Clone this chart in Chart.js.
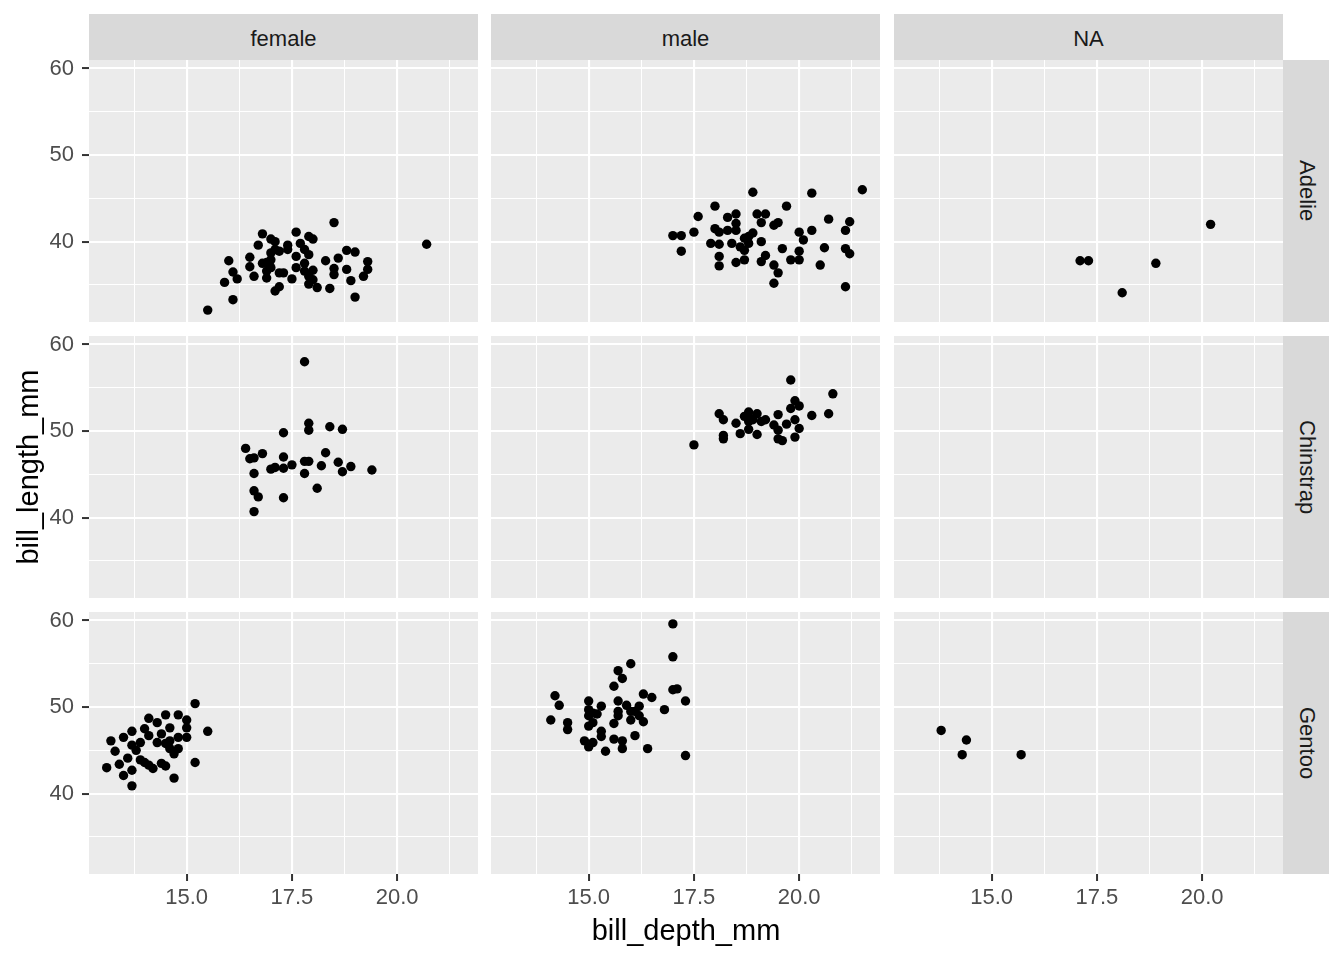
<!DOCTYPE html>
<html>
<head>
<meta charset="utf-8">
<script src="https://cdn.jsdelivr.net/npm/chart.js@4.4.1/dist/chart.umd.min.js"></script>
<style>
  body { margin: 0; background: #fff; }
  #wrap { position: relative; width: 1344px; height: 960px; overflow: hidden; font-family: "Liberation Sans", Arial, sans-serif; }
  #wrap canvas { position: absolute; }
  .strip { position: absolute; box-sizing: border-box; background: #D9D9D9; color: #1A1A1A; font-size: 22px; display: flex; align-items: center; justify-content: center; }
  .strip.top { padding-top: 4px; }
  .strip.right { writing-mode: vertical-rl; padding-left: 2px; }
  .title { position: absolute; color: #000; font-size: 29px; height: 38px; line-height: 38px; text-align: center; white-space: nowrap; }
</style>
</head>
<body>
<div id="wrap"></div>
<script>
// facets
const sexes = ['female', 'male', 'NA'];
const species = ['Adelie', 'Chinstrap', 'Gentoo'];

// axis breaks and limits
const xTicks = [15, 17.5, 20];
const yTicks = [40, 50, 60];
const xRange = [12.68, 21.92];
const yRange = [30.725, 60.975];

// [bill_depth_mm, bill_length_mm]
const adelieFemale = [
  [15.5, 32.1], [16.1, 33.3], [15.9, 35.3], [16.0, 37.8], [16.1, 36.5], [16.2, 35.7], [16.5, 38.2], [16.5, 37.1],
  [16.6, 36.0], [16.7, 39.6], [16.8, 40.9], [16.8, 37.5], [16.9, 35.8], [17.0, 40.3], [17.0, 38.7], [17.0, 37.0],
  [17.1, 34.3], [17.2, 34.8], [17.1, 40.0], [17.2, 38.9], [17.0, 37.9], [16.9, 36.6], [17.2, 36.4], [17.3, 36.4],
  [17.4, 39.6], [17.5, 35.7], [17.6, 41.1], [17.6, 38.3], [17.7, 39.8], [17.8, 39.1], [17.9, 40.6], [18.0, 40.3],
  [17.9, 38.5], [17.8, 37.5], [17.8, 36.6], [18.0, 36.7], [17.9, 36.0], [18.0, 35.6], [17.9, 35.1], [18.1, 34.7],
  [18.3, 37.8], [18.4, 34.6], [18.5, 42.2], [18.5, 36.9], [18.6, 38.1], [18.5, 36.2], [18.8, 39.0], [19.0, 38.8],
  [18.8, 36.8], [18.9, 35.5], [19.0, 33.6], [19.3, 37.7], [19.3, 36.8], [19.2, 36.0], [20.7, 39.7], [17.6, 37.0],
  [17.4, 39.1], [16.9, 37.6], [17.1, 39.1]
];
const adelieMale = [
  [18.9, 45.7], [20.3, 45.6], [21.5, 46.0], [18.0, 44.1], [19.7, 44.1], [17.6, 42.9], [18.3, 42.8], [18.5, 43.2],
  [19.0, 43.2], [19.2, 43.2], [19.1, 42.2], [19.4, 41.9], [19.5, 42.2], [20.7, 42.6], [21.2, 42.3], [21.1, 41.3],
  [20.3, 41.3], [20.0, 41.1], [20.1, 40.2], [17.0, 40.7], [17.2, 40.7], [17.5, 41.1], [17.2, 38.9], [17.9, 39.8],
  [18.1, 39.7], [18.0, 41.5], [18.1, 41.1], [18.3, 41.3], [18.5, 41.3], [18.4, 39.8], [18.6, 39.4], [18.7, 40.4],
  [18.8, 40.6], [18.9, 41.0], [19.1, 40.0], [18.7, 39.0], [18.1, 38.3], [18.1, 37.2], [18.5, 37.6], [18.7, 37.9],
  [19.1, 37.7], [19.2, 38.4], [19.4, 37.3], [19.5, 36.4], [19.4, 35.2], [19.6, 39.2], [19.8, 37.9], [20.0, 38.9],
  [20.0, 37.9], [20.5, 37.3], [20.6, 39.3], [21.1, 39.2], [21.2, 38.6], [21.1, 34.8], [18.5, 42.1], [18.8, 39.8]
];
const adelieNA = [[17.1, 37.8], [17.3, 37.8], [18.1, 34.1], [18.9, 37.5], [20.2, 42.0]];

const chinstrapFemale = [
  [17.8, 58.0], [17.9, 50.9], [17.9, 50.1], [18.4, 50.5], [18.7, 50.2], [17.3, 49.8], [16.4, 48.0], [16.5, 46.8],
  [16.6, 46.9], [16.8, 47.4], [16.6, 45.1], [17.0, 45.6], [17.1, 45.8], [17.3, 47.0], [17.3, 45.7], [17.5, 46.1],
  [17.8, 46.5], [17.9, 46.5], [17.8, 45.1], [18.2, 46.0], [18.3, 47.5], [18.6, 46.4], [18.7, 45.3], [18.9, 45.9],
  [19.4, 45.5], [18.1, 43.4], [16.6, 43.1], [16.7, 42.4], [17.3, 42.3], [16.6, 40.7]
];
const chinstrapMale = [
  [17.5, 48.4], [19.8, 55.9], [20.8, 54.3], [19.9, 53.5], [20.0, 52.9], [19.8, 52.6], [18.1, 52.0], [18.2, 51.3],
  [18.5, 50.9], [18.6, 49.7], [18.2, 49.5], [18.2, 49.1], [18.7, 51.7], [18.8, 52.2], [19.0, 52.0], [18.9, 51.3],
  [19.1, 51.1], [19.2, 51.3], [18.8, 51.1], [18.8, 50.2], [19.0, 49.6], [19.5, 51.9], [19.4, 50.7], [19.5, 50.1],
  [19.7, 50.8], [19.9, 51.3], [20.0, 50.3], [19.9, 49.3], [19.5, 49.1], [19.6, 48.9], [20.3, 51.8], [20.7, 52.0],
  [18.8, 51.7]
];
const chinstrapNA = [];

const gentooFemale = [
  [15.2, 50.4], [15.5, 47.2], [14.1, 48.7], [14.5, 49.1], [14.8, 49.1], [15.0, 48.5], [15.0, 47.6], [15.0, 46.5],
  [14.8, 46.5], [14.6, 47.6], [14.3, 48.2], [14.0, 47.5], [13.7, 47.2], [13.5, 46.5], [13.2, 46.1], [13.3, 44.9],
  [13.7, 45.6], [13.9, 45.9], [14.1, 46.7], [14.3, 45.9], [14.5, 45.8], [14.6, 46.1], [14.4, 46.9], [14.6, 45.2],
  [14.8, 45.2], [14.7, 44.6], [13.8, 45.0], [13.6, 44.1], [13.9, 43.9], [14.0, 43.6], [14.1, 43.3], [14.2, 42.9],
  [14.4, 43.5], [14.5, 43.2], [13.4, 43.4], [13.1, 43.0], [13.7, 42.7], [13.5, 42.1], [13.7, 40.9], [14.7, 41.8],
  [15.2, 43.6]
];
const gentooMale = [
  [17.0, 59.6], [17.0, 55.8], [16.0, 55.0], [15.7, 54.2], [15.8, 53.3], [15.6, 52.4], [17.0, 52.0], [17.1, 52.1],
  [17.3, 50.7], [14.2, 51.3], [14.3, 50.2], [14.1, 48.5], [14.5, 48.2], [14.5, 47.4], [15.0, 50.7], [15.0, 49.7],
  [15.0, 49.0], [15.1, 49.3], [15.3, 50.1], [15.2, 49.2], [15.0, 47.8], [15.1, 48.2], [15.3, 47.2], [15.3, 46.6],
  [14.9, 46.1], [15.0, 45.4], [15.1, 45.9], [15.4, 44.9], [15.6, 46.3], [15.8, 46.1], [15.8, 45.2], [16.1, 46.7],
  [16.4, 45.2], [17.3, 44.4], [15.7, 50.7], [15.7, 49.5], [15.9, 50.2], [15.6, 48.1], [15.7, 49.0], [16.0, 48.5],
  [16.0, 49.5], [16.1, 49.5], [16.2, 50.1], [16.3, 51.5], [16.5, 51.1], [16.3, 48.3], [16.8, 49.7], [16.2, 49.0]
];
const gentooNA = [[13.8, 47.3], [14.4, 46.2], [14.3, 44.5], [15.7, 44.5]];

const cells = [
  [adelieFemale, adelieMale, adelieNA],
  [chinstrapFemale, chinstrapMale, chinstrapNA],
  [gentooFemale, gentooMale, gentooNA]
];

// page layout
const colLeft = [89, 491, 894];
const rowTop = [60, 336, 612];
const PW = 389, PH = 262;
const YAXIS_W = 89, XAXIS_H = 40, PAD_TOP = 12;
const STRIP = 46;
const FONT = '"Liberation Sans", Arial, sans-serif';

Chart.defaults.font.family = FONT;

const wrap = document.getElementById('wrap');

function isMajor(list, v) {
  return list.some((t) => Math.abs(t - v) < 1e-6);
}

// panel background
const panelBg = {
  id: 'panelBg',
  beforeDraw(chart) {
    const { ctx, chartArea: a } = chart;
    ctx.save();
    ctx.fillStyle = '#EBEBEB';
    ctx.fillRect(a.left, a.top, a.right - a.left, a.bottom - a.top);
    ctx.restore();
  }
};

function makePanel(r, c) {
  const leftAxis = c === 0;
  const bottomAxis = r === 2;
  const canvas = document.createElement('canvas');
  const w = PW + (leftAxis ? YAXIS_W : 0);
  const h = PAD_TOP + PH + (bottomAxis ? XAXIS_H : 0);
  canvas.width = w;
  canvas.height = h;
  canvas.style.width = w + 'px';
  canvas.style.height = h + 'px';
  canvas.style.left = (colLeft[c] - (leftAxis ? YAXIS_W : 0)) + 'px';
  canvas.style.top = (rowTop[r] - PAD_TOP) + 'px';
  wrap.appendChild(canvas);

  const pts = cells[r][c].map(([x, y]) => ({ x, y }));

  return new Chart(canvas.getContext('2d'), {
    type: 'scatter',
    data: {
      datasets: [{
        data: pts,
        backgroundColor: '#000',
        borderWidth: 0,
        pointRadius: 4.7,
        pointHoverRadius: 4.7
      }]
    },
    options: {
      responsive: false,
      animation: false,
      devicePixelRatio: 1,
      events: [],
      layout: { autoPadding: false, padding: { top: PAD_TOP, left: 0, right: 0, bottom: 0 } },
      plugins: { legend: { display: false }, tooltip: { enabled: false } },
      scales: {
        x: {
          type: 'linear',
          min: xRange[0],
          max: xRange[1],
          border: { display: false },
          grid: {
            color: '#FFFFFF',
            lineWidth: (ctx) => (isMajor(xTicks, ctx.tick.value) ? 2.1 : 1.05),
            drawTicks: bottomAxis,
            tickLength: 7,
            tickWidth: 2,
            tickColor: (ctx) => (isMajor(xTicks, ctx.tick.value) ? '#333333' : 'rgba(0,0,0,0)')
          },
          ticks: {
            display: bottomAxis,
            stepSize: 1.25,
            includeBounds: false,
            autoSkip: false,
            maxRotation: 0,
            padding: 4,
            color: '#4D4D4D',
            font: { size: 22 },
            callback: (v) => (isMajor(xTicks, v) ? v.toFixed(1) : '')
          },
          afterFit(s) {
            s.height = bottomAxis ? XAXIS_H : 0;
            s.paddingLeft = 0;
            s.paddingRight = 0;
          }
        },
        y: {
          type: 'linear',
          min: yRange[0],
          max: yRange[1],
          border: { display: false },
          grid: {
            color: '#FFFFFF',
            lineWidth: (ctx) => (isMajor(yTicks, ctx.tick.value) ? 2.1 : 1.05),
            drawTicks: leftAxis,
            tickLength: 7,
            tickWidth: 2,
            tickColor: (ctx) => (isMajor(yTicks, ctx.tick.value) ? '#333333' : 'rgba(0,0,0,0)')
          },
          ticks: {
            display: leftAxis,
            stepSize: 5,
            includeBounds: false,
            autoSkip: false,
            padding: 8,
            color: '#4D4D4D',
            font: { size: 22 },
            callback: (v) => (isMajor(yTicks, v) ? String(v) : '')
          },
          afterFit(s) {
            s.width = leftAxis ? YAXIS_W : 0;
            s.paddingTop = 0;
            s.paddingBottom = 0;
          }
        }
      }
    },
    plugins: [panelBg]
  });
}

function addDiv(cls, text, left, top, width, height) {
  const d = document.createElement('div');
  d.className = cls;
  d.textContent = text;
  d.style.left = left + 'px';
  d.style.top = top + 'px';
  d.style.width = width + 'px';
  d.style.height = height + 'px';
  wrap.appendChild(d);
  return d;
}

// strips
sexes.forEach((s, c) => addDiv('strip top', s, colLeft[c], rowTop[0] - STRIP, PW, STRIP));
species.forEach((s, r) => addDiv('strip right', s, colLeft[2] + PW, rowTop[r], STRIP, PH));

for (let r = 0; r < 3; r++) {
  for (let c = 0; c < 3; c++) makePanel(r, c);
}

// axis titles
addDiv('title', 'bill_depth_mm', colLeft[0], 911, colLeft[2] + PW - colLeft[0], 38);
const yt = addDiv('title', 'bill_length_mm', 28 - 200, 467 - 19, 400, 38);
yt.style.transform = 'rotate(-90deg)';
</script>
</body>
</html>
